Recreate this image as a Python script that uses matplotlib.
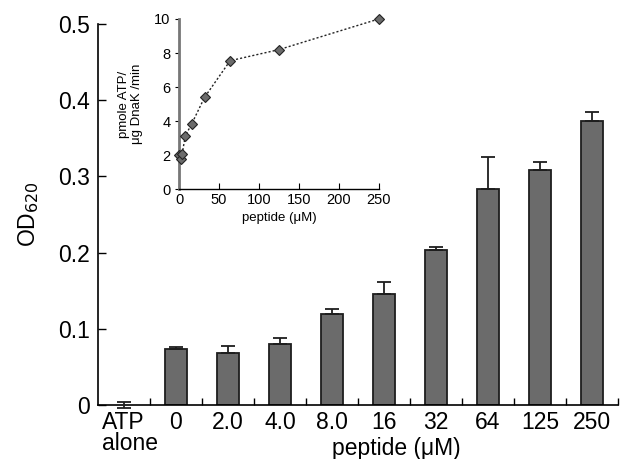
import matplotlib
matplotlib.use("Agg")
import matplotlib.pyplot as plt
import matplotlib.transforms as mtransforms
import numpy as np

plt.rcParams['font.family'] = ['Liberation Sans', 'DejaVu Sans']

categories = ["ATP\nalone", "0", "2.0", "4.0", "8.0", "16", "32", "64", "125", "250"]
od620 = [0.0, 0.073, 0.068, 0.080, 0.119, 0.146, 0.203, 0.284, 0.308, 0.373]
od_err = [0.004, 0.003, 0.010, 0.008, 0.007, 0.016, 0.005, 0.041, 0.011, 0.012]

inset_peptide = [0, 2, 4, 8, 16, 32, 64, 125, 250]
inset_rate = [2.0, 1.8, 2.1, 3.15, 3.85, 5.4, 7.55, 8.2, 10.0]

fig = plt.figure(figsize=(6.22, 4.59), dpi=100)
ax = fig.add_axes([98/622, 54/459, 520/622, 381/459])

x = np.arange(len(categories))
ax.bar(x[1:], od620[1:], width=0.43, color="#6b6b6b", edgecolor="#1e1e1e", linewidth=1.3, zorder=2)
# error bars: upper only for bars, both sides for ATP alone
eb1 = ax.errorbar(x[1:], od620[1:], yerr=[np.zeros(len(x) - 1), od_err[1:]], fmt="none",
                  ecolor="#1e1e1e", elinewidth=1.3, capsize=5, capthick=1.3, zorder=3)
eb0 = ax.errorbar(x[:1], od620[:1], yerr=od_err[:1], fmt="none",
                  ecolor="#1e1e1e", elinewidth=1.3, capsize=5, capthick=1.3, zorder=3)
for eb in (eb0,):
    for art in eb.lines[1]:
        art.set_clip_on(False)
    for art in eb.lines[2]:
        art.set_clip_on(False)

ax.set_xlim(-0.5, len(categories) - 0.5)
ax.set_ylim(0, 0.5)
ax.spines['top'].set_visible(False)
ax.spines['right'].set_visible(False)
for s in ['left', 'bottom']:
    ax.spines[s].set_linewidth(1.2)

ax.set_xticks(x)
ax.set_xticklabels(categories, fontsize=16.5, linespacing=0.9)
ax.tick_params(axis='x', length=0, pad=4)
ax.set_xticks(np.arange(0.5, len(categories), 1.0), minor=True)
ax.tick_params(axis='x', which='minor', direction='in', length=5, width=1.0)
labels = ax.get_xticklabels()
labels[0].set_horizontalalignment('left')
labels[0].set_transform(labels[0].get_transform() + mtransforms.ScaledTranslation(-22/100, 0, fig.dpi_scale_trans))

ax.set_yticks([0, 0.1, 0.2, 0.3, 0.4, 0.5])
ax.set_yticklabels(["0", "0.1", "0.2", "0.3", "0.4", "0.5"], fontsize=16.5)
ax.tick_params(axis='y', direction='in', length=6, width=1.0, pad=6)

ax.set_ylabel("OD$_{620}$", fontsize=16.5, labelpad=12)
fig.text(396/622, 1 - 448/459, "peptide (\u03bcM)", fontsize=16.5, ha='center', va='center')

# inset
ia = fig.add_axes([179/622, (459 - 189.3)/459, 199.7/622, 170.3/459])
ia.plot(inset_peptide, inset_rate, linestyle=(0, (1.5, 1.5)), color="#222222", linewidth=1.0,
        marker='D', markersize=5, markerfacecolor="#6b6b6b", markeredgecolor="#222222",
        markeredgewidth=0.8, clip_on=False, zorder=3)
ia.set_xlim(0, 250)
ia.set_ylim(0, 10)
ia.spines['top'].set_visible(False)
ia.spines['right'].set_visible(False)
ia.spines['left'].set_color("#777777")
ia.spines['left'].set_linewidth(2)
ia.spines['bottom'].set_linewidth(1.0)
ia.set_xticks([0, 50, 100, 150, 200, 250])
ia.set_yticks([0, 2, 4, 6, 8, 10])
ia.tick_params(axis='x', direction='in', length=4, labelsize=10.5, pad=3)
ia.tick_params(axis='y', direction='out', length=3, labelsize=10.5, pad=3)
ia.set_xlabel("peptide (\u03bcM)", fontsize=9.5, labelpad=3)
ia.set_ylabel("pmole ATP/\n\u03bcg DnaK /min", fontsize=9.5, labelpad=8, linespacing=1.1)

fig.savefig("out.png", dpi=100)
